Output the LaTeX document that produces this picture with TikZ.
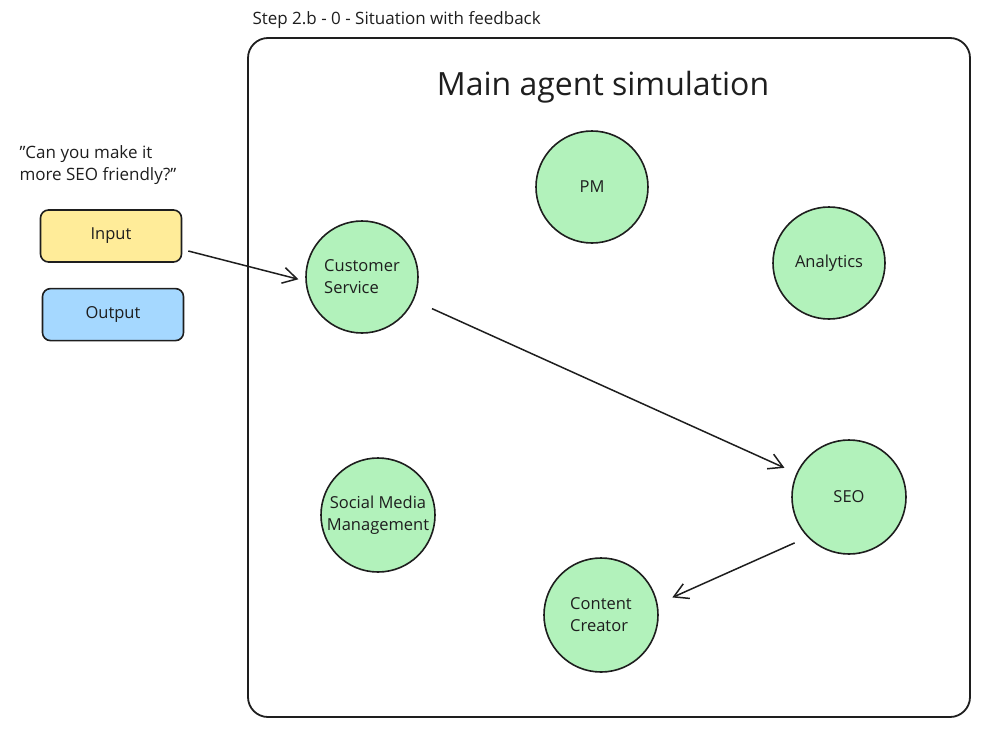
\documentclass[tikz,border=0pt]{standalone}
\usepackage{fontspec}
\setmainfont{Open Sans}
\usetikzlibrary{arrows.meta, positioning}
\definecolor{agentgreen}{HTML}{B2F2BB}
\definecolor{inyellow}{HTML}{FFEC99}
\definecolor{outblue}{HTML}{A5D8FF}
\definecolor{inkgray}{HTML}{1E1E1E}

\begin{document}
\begin{tikzpicture}[x=1pt, y=-1pt, node distance=25pt,
  agent/.style={circle, draw=inkgray, fill=agentgreen, line width=1.6pt, minimum size=112pt, inner sep=0pt, font=\fontsize{16.5}{22}\selectfont, text=inkgray},
  io/.style={rectangle, rounded corners=8pt, draw=inkgray, line width=1.6pt, minimum width=141pt, minimum height=52pt, font=\fontsize{16.5}{18}\selectfont, text=inkgray},
  note/.style={font=\fontsize{17}{22}\selectfont, text=inkgray},
  arr/.style={-{Straight Barb[length=14pt, width=16pt, line width=1.5pt]}, line width=1.5pt, draw=inkgray}
]
\useasboundingbox (0,0) rectangle (992,739);
% frame and headings
\draw[inkgray, line width=1.8pt, rounded corners=20pt] (248,38) rectangle (970,717);
\node[note, anchor=west] (step) at (249,20) {Step 2.b - 0 - Situation with feedback};
\node[font=\fontsize{32}{36}\selectfont, text=inkgray] (title) at (603,87) {Main agent simulation};
\node[note, anchor=north west, align=left] (quote) at (16,142) {"Can you make it\\more SEO friendly?"};
% input / output
\node[io, fill=inyellow] (in) at (111,236) {Input};
\node[io, fill=outblue, below=25pt of in, xshift=2pt] (out) {Output};
% agents
\node[agent] (pm) at (592,187) {PM};
\node[agent, align=left] (cs) at (362,277) {Customer\\Service};
\node[agent] (ana) at (829,263) {Analytics};
\node[agent, align=center, minimum size=114pt] (smm) at (378,515) {Social Media\\Management};
\node[agent, minimum size=114pt] (seo) at (849,497) {SEO};
\node[agent, align=left, minimum size=114pt] (cc) at (601,615) {Content\\Creator};
% feedback flow
\draw[arr, shorten >=7pt] ([xshift=6pt, yshift=-15pt]in.east) -- ([yshift=-4pt]cs.west);
\draw[arr, shorten <=20pt, shorten >=13pt] (cs) -- (seo);
\draw[arr, shorten <=14pt, shorten >=16pt] (seo.224) -- (cc.11);
\end{tikzpicture}
\end{document}
